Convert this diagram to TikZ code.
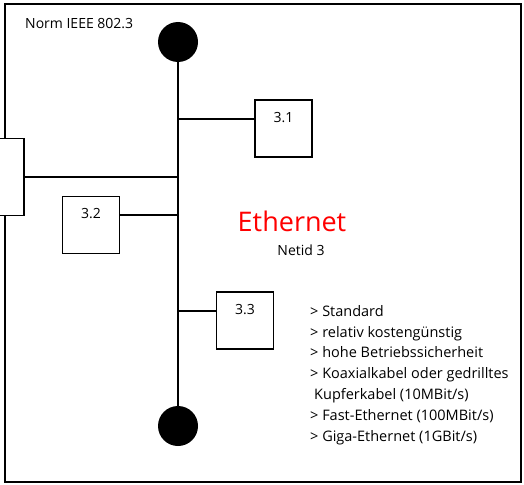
\documentclass[tikz,border=0pt]{standalone}
\usepackage{fontspec}
\setmainfont{Open Sans}
\usetikzlibrary{positioning}

\begin{document}
\begin{tikzpicture}[
    x=1pt, y=-1pt,
    frame/.style={draw=black, line width=1.8pt},
    bus/.style={draw=black, line width=1.6pt},
    term/.style={circle, fill=black, inner sep=0pt, minimum size=40pt},
    station/.style={rectangle, draw=black, line width=1.6pt, fill=white,
        minimum width=57pt, minimum height=57pt, inner sep=0pt},
    stnum/.style={anchor=center, yshift=-18pt, font=\fontsize{14}{16}\selectfont},
    txt/.style={inner sep=0pt, font=\fontsize{14}{16}\selectfont}
]
\useasboundingbox (0,0) rectangle (524,484);

%% Frame
\draw[frame] (5,4) rectangle (521,482);
\node[txt, anchor=base west] (norm) at (25,29) {Norm IEEE 802.3};

%% Terminators
\node[term] (top) at (178,42) {};
\node[term] (bot) at (178,426) {};

%% Stations
\node[station, minimum width=40pt, minimum height=77pt] (lnk) at (4,177) {};
\node[station, label={[stnum]north:3.1}] (s31) at (283.5,128.5) {};
\node[station, label={[stnum]north:3.2}] (s32) at (91,225) {};
\node[station, label={[stnum]north:3.3}] (s33) at (245,320.5) {};

%% ── Bus and branches ────────────────────────────────────────────
\draw[bus] (top) -- (bot);
\draw[bus] (lnk.east) -- (lnk.east -| top.center);
\draw[bus] (s31.west |- 0,119) -- (top.center |- 0,119);
\draw[bus] (s32.east |- 0,215) -- (top.center |- 0,215);
\draw[bus] (s33.west |- 0,311) -- (top.center |- 0,311);

%% Labels
\node[txt, text=red, font=\fontsize{27}{30}\selectfont] (eth) at (292,221) {Ethernet};
\node[txt] (netid) at (301,250) {Netid 3};
\node[txt, anchor=base west, align=left,
      font=\fontsize{14.5}{20.8}\selectfont] (props) at (310,441)
    {> Standard\\
     > relativ kostengünstig\\
     > hohe Betriebssicherheit\\
     > Koaxialkabel oder gedrilltes\\
     \hspace*{4pt}Kupferkabel (10MBit/s)\\
     > Fast-Ethernet (100MBit/s)\\
     > Giga-Ethernet (1GBit/s)};

\end{tikzpicture}
\end{document}
